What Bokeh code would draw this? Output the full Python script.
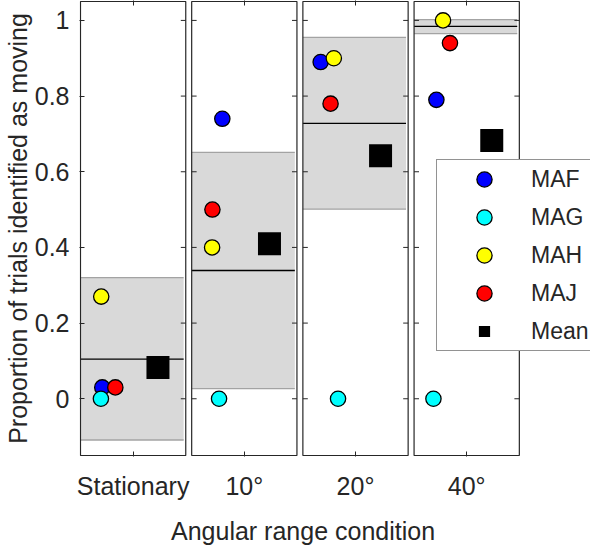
import numpy as np
from bokeh.plotting import figure
from bokeh.models import (FixedTicker, CustomJSTickFormatter, LinearAxis, Legend,
                          LegendItem, Range1d, Title)
from bokeh.embed import file_html
from bokeh.resources import INLINE

# ---------------- data ----------------
conditions = ["Stationary", "10°", "20°", "40°"]
subjects = ["MAF", "MAG", "MAH", "MAJ"]
subject_colors = ["#0000ff", "#00ffff", "#ffff00", "#ff0000"]

maf = [0.03, 0.74, 0.89, 0.79]
mag = [0.0, 0.0, 0.0, 0.0]
mah = [0.27, 0.40, 0.90, 1.00]
maj = [0.03, 0.50, 0.78, 0.94]

# horizontal jitter of each subject inside its panel (panel spans 0.5 .. 1.5)
maf_x = [0.707, 0.791, 0.669, 0.712]
mag_x = [0.694, 0.760, 0.834, 0.684]
mah_x = [0.697, 0.694, 0.794, 0.775]
maj_x = [0.831, 0.697, 0.763, 0.841]

mean_vals = [0.0825, 0.41, 0.6425, 0.6825]
mean_x = [1.236, 1.239, 1.238, 1.238]

band_mid = [0.105, 0.339, 0.728, 0.984]
band_lo = [-0.109, 0.027, 0.501, 0.965]
band_hi = [0.320, 0.651, 0.955, 1.002]
band_right = 1.48

y_ticks = [0, 0.2, 0.4, 0.6, 0.8, 1]
y_lim = [-0.15, 1.05]
x_title = "Angular range condition"
y_title = "Proportion of trials identified as moving"

# ---------------- layout ----------------
W, H = 590, 546
PANEL_W = 106.5
GAP = 6.0
UNIT = PANEL_W + GAP            # px per panel index
SCALE = PANEL_W / UNIT          # panel width in data units
HW = SCALE / 2
PANEL_H = 454.0
BORDER_L, BORDER_R, BORDER_T = 73, 0, 0
FRAME_W = W - BORDER_L - BORDER_R
FRAME_H = PANEL_H + 2
BORDER_B = H - BORDER_T - FRAME_H
PX_Y = PANEL_H / (y_lim[1] - y_lim[0])
PAD_X = 1.0 / UNIT
PAD_Y = 1.0 / PX_Y
TICK = 5.0

TXT = "#262626"
FONT = "Liberation Sans"

centers = np.arange(1, len(conditions) + 1, dtype=float)


def gx(local):
    return centers + (np.asarray(local, dtype=float) - 1.0) * SCALE


x0 = 1 - HW - PAD_X
p = figure(width=W, height=H,
           x_range=Range1d(x0, x0 + FRAME_W / UNIT),
           y_range=Range1d(y_lim[0] - PAD_Y, y_lim[1] + PAD_Y),
           output_backend="svg", toolbar_location=None,
           min_border_left=BORDER_L, min_border_right=BORDER_R,
           min_border_top=BORDER_T, min_border_bottom=int(BORDER_B),
           outline_line_color=None, background_fill_color="white",
           border_fill_color="white")
p.xgrid.visible = False
p.ygrid.visible = False

# shaded bands
left = centers - HW
bright = gx([band_right] * 4)
p.quad(left=left, right=bright, bottom=band_lo, top=band_hi,
       fill_color="#d9d9d9", line_color=None)
p.segment(x0=left, x1=bright, y0=band_lo, y1=band_lo, line_color="#a3a3a3", line_width=1.3)
p.segment(x0=left, x1=bright, y0=band_hi, y1=band_hi, line_color="#a3a3a3", line_width=1.3)
p.segment(x0=left, x1=bright, y0=band_mid, y1=band_mid, line_color="black", line_width=1.3)

# panel frames
p.quad(left=centers - HW, right=centers + HW, bottom=[y_lim[0]] * 4, top=[y_lim[1]] * 4,
       fill_color=None, line_color=TXT, line_width=1.2)

# panel side ticks (inner edges)
tl = TICK / UNIT
tx0, tx1, ty = [], [], []
for k, c in enumerate(centers):
    for yt in y_ticks:
        if k > 0:
            tx0.append(c - HW); tx1.append(c - HW + tl); ty.append(yt)
        tx0.append(c + HW - tl); tx1.append(c + HW); ty.append(yt)
p.segment(x0=tx0, x1=tx1, y0=ty, y1=ty, line_color=TXT, line_width=1)

# subject points
renderers = []
for vals, xs, col in zip([maf, mag, mah, maj], [maf_x, mag_x, mah_x, maj_x], subject_colors):
    r = p.scatter(x=gx(xs), y=vals, size=15.3, fill_color=col,
                  line_color="black", line_width=1.3)
    renderers.append(r)

# means
p.scatter(x=gx(mean_x), y=mean_vals, marker="square", size=23,
          fill_color="black", line_color=None)
# legend-only glyph (not drawn in the plot: NaN position)
mean_leg = p.scatter(x=[np.nan], y=[np.nan], marker="square", size=23, fill_color="black",
                     line_color="white", line_width=4)

# axes
ax = p.xaxis[0]
ax.ticker = FixedTicker(ticks=list(centers))
ax.formatter = CustomJSTickFormatter(args=dict(labels=conditions),
                                     code="return labels[Math.round(tick) - 1];")
ax.major_tick_in = 5
ax.major_tick_out = 0
ax.minor_tick_in = 0
ax.minor_tick_out = 0
ax.axis_line_color = None
ax.major_tick_line_color = TXT
ax.major_label_text_font = FONT
ax.major_label_text_font_size = "25px"
ax.major_label_text_color = TXT
ax.major_label_standoff = 15

ay = p.yaxis[0]
ay.ticker = FixedTicker(ticks=y_ticks)
ay.formatter = CustomJSTickFormatter(code="return tick.toString();")
ay.major_tick_in = 5
ay.major_tick_out = 0
ay.minor_tick_in = 0
ay.minor_tick_out = 0
ay.axis_line_color = None
ay.major_tick_line_color = TXT
ay.major_label_text_font = FONT
ay.major_label_text_font_size = "25px"
ay.major_label_text_color = TXT
ay.major_label_standoff = 10
ay.axis_label = y_title
ay.axis_label_text_font = FONT
ay.axis_label_text_font_size = "25px"
ay.axis_label_text_font_style = "normal"
ay.axis_label_text_color = TXT
ay.axis_label_standoff = 0

top = LinearAxis(ticker=FixedTicker(ticks=list(centers)),
                 formatter=CustomJSTickFormatter(code="return '';"),
                 major_label_text_font_size="0px", major_label_standoff=0,
                 major_tick_in=5, major_tick_out=0, minor_tick_in=0, minor_tick_out=0,
                 axis_line_color=None, major_tick_line_color=TXT)
p.add_layout(top, "above")

# invisible spacer axis below the tick labels (one hidden tick), then the x title
spacer = LinearAxis(ticker=FixedTicker(ticks=[float(centers[0])]),
                    formatter=CustomJSTickFormatter(code="return '';"),
                    major_tick_in=0, major_tick_out=11,
                    minor_tick_in=0, minor_tick_out=0, major_label_standoff=0,
                    axis_line_color=None, major_tick_line_color=None,
                    major_label_text_font_size="0px")
p.add_layout(spacer, "below")

panels_mid = ((1 - HW) + (len(conditions) + HW)) / 2
title_w = 263.0   # rendered width of the x title at 25px
offset = (panels_mid - x0) * UNIT - title_w / 2
xt = Title(text=x_title, align="left", offset=offset, standoff=2,
           text_font=FONT, text_font_size="25px", text_font_style="normal",
           text_color=TXT)
p.add_layout(xt, "below")

items = [LegendItem(label=s, renderers=[r]) for s, r in zip(subjects, renderers)]
items.append(LegendItem(label="Mean", renderers=[mean_leg]))
legend = Legend(items=items, location=(357, 105), glyph_width=94, glyph_height=38,
                spacing=-5, padding=0, margin=0, label_standoff=0, label_width=65,
                label_height=20, label_text_font=FONT, label_text_font_size="23px",
                label_text_color=TXT, border_line_color=TXT, border_line_width=1,
                background_fill_color="white", background_fill_alpha=1)
p.add_layout(legend)

open("out.html", "w").write(file_html(p, INLINE))
